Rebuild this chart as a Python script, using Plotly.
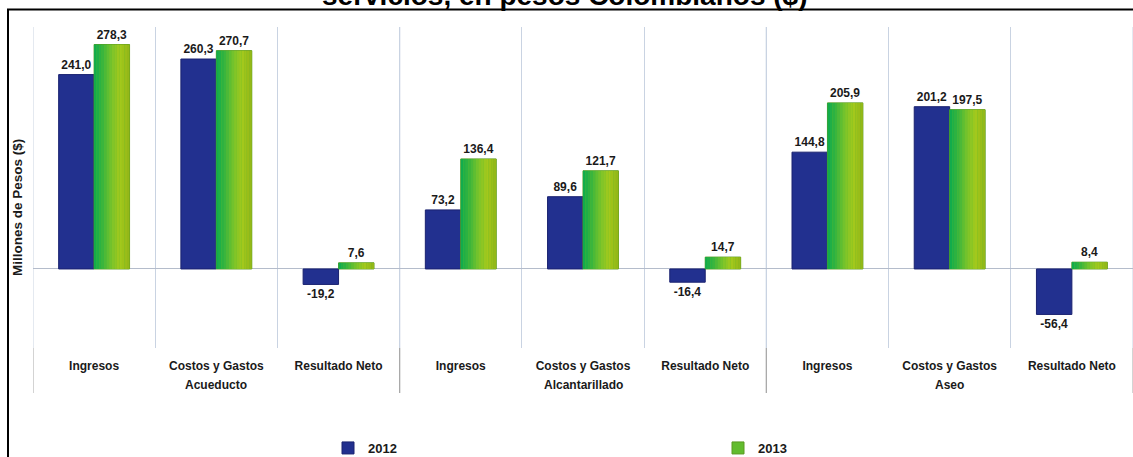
import plotly.graph_objects as go

# ---- data ----
groups = ["Acueducto"] * 3 + ["Alcantarillado"] * 3 + ["Aseo"] * 3
categories = ["Ingresos", "Costos y Gastos", "Resultado Neto"] * 3
values_2012 = [241.0, 260.3, -19.2, 73.2, 89.6, -16.4, 144.8, 201.2, -56.4]
values_2013 = [278.3, 270.7, 7.6, 136.4, 121.7, 14.7, 205.9, 197.5, 8.4]
series_names = ["2012", "2013"]
title_text = "servicios, en pesos Colombianos ($)"
y_title = "Millones de Pesos ($)"

FONT = "Liberation Sans, Arial, sans-serif"
BLUE = "#22308F"
GRID = "#C9D3E2"
BAR_W = 0.29
PLOT_TOP, PLOT_BOTTOM = 27, 348
PLOT_H = PLOT_BOTTOM - PLOT_TOP


def fmt(v):
    return f"{v:.1f}".replace(".", ",")


def lerp(c1, c2, t):
    a = [int(c1[i:i + 2], 16) for i in (1, 3, 5)]
    b = [int(c2[i:i + 2], 16) for i in (1, 3, 5)]
    return "#" + "".join(f"{round(a[k] + (b[k] - a[k]) * t):02X}" for k in range(3))


def py(pixel_y):
    """pixel row -> paper y"""
    return (PLOT_BOTTOM - pixel_y) / PLOT_H


xi = list(range(len(categories)))
fig = go.Figure()

label_font = dict(family=FONT, size=12, color="#1A1A1A", weight="bold")

# 2012 bars
fig.add_trace(go.Bar(
    x=xi, y=values_2012, name=series_names[0],
    width=BAR_W, offset=-BAR_W,
    marker=dict(color=BLUE, line=dict(color="#1A2270", width=1)),
    text=[fmt(v) for v in values_2012], textposition="outside",
    textfont=label_font, cliponaxis=False,
))

# 2013 base bars (carry label + legend)
fig.add_trace(go.Bar(
    x=xi, y=values_2013, name=series_names[1],
    width=BAR_W, offset=0,
    marker=dict(color="#62BC2E", line=dict(color="#5A9A20", width=1)),
    text=[fmt(v) for v in values_2013], textposition="outside",
    textfont=label_font, cliponaxis=False,
))

# gradient slices for 2013 bars
N = 14
stops = ["#12AC4C", "#3DB63C", "#7CC42A", "#A4C91C", "#94B818"]
for i in range(N):
    t = i / (N - 1)
    seg = min(int(t * (len(stops) - 1)), len(stops) - 2)
    local = t * (len(stops) - 1) - seg
    col = lerp(stops[seg], stops[seg + 1], local)
    fig.add_trace(go.Bar(
        x=xi, y=values_2013, showlegend=False, hoverinfo="skip",
        width=BAR_W / N, offset=i * BAR_W / N,
        marker=dict(color=col, line=dict(width=0)),
    ))

fig.update_layout(
    width=1133, height=457, autosize=False,
    margin=dict(l=33, r=0, t=PLOT_TOP, b=457 - PLOT_BOTTOM, autoexpand=False),
    paper_bgcolor="white", plot_bgcolor="white",
    barmode="overlay",
    font=dict(family=FONT, size=12, color="#1A1A1A"),
    showlegend=True,
    legend=dict(
        orientation="h", x=(328 - 33) / 1100, xanchor="left",
        y=py(448), yanchor="middle",
        entrywidth=345, entrywidthmode="pixels",
        font=dict(family=FONT, size=13, color="#1A1A1A", weight="bold"),
        bgcolor="rgba(0,0,0,0)", traceorder="normal",
    ),
)

fig.update_xaxes(
    range=[-0.5, len(categories) - 0.5],
    tickmode="array", tickvals=xi, ticktext=categories,
    showgrid=False, showline=False, ticks="", zeroline=False,
    minor=dict(tickmode="linear", tick0=0.5, dtick=1, showgrid=True,
               gridcolor=GRID, gridwidth=1, ticks=""),
    tickfont=dict(family=FONT, size=12, color="#1A1A1A", weight="bold"),
    ticklabelstandoff=9, automargin=False,
)
fig.update_yaxes(
    range=[-98, 300],
    showgrid=False, showticklabels=False, ticks="",
    zeroline=True, zerolinecolor="#B4BCCB", zerolinewidth=1,
    showline=False, automargin=False,
)

# group labels and dividers
group_names = list(dict.fromkeys(groups))
for g in group_names:
    idx = [i for i, gg in enumerate(groups) if gg == g]
    fig.add_annotation(
        text=g, xref="x", yref="paper", x=sum(idx) / len(idx), y=py(385),
        xanchor="center", yanchor="middle", showarrow=False,
        font=dict(family=FONT, size=12, color="#1A1A1A", weight="bold"),
    )
    for b in (idx[0] - 0.5, idx[-1] + 0.5):
        # light boundary line inside the plot area (covers the outer edges too)
        fig.add_shape(
            type="line", xref="x", yref="paper", x0=b, x1=b,
            y0=0, y1=1, line=dict(color=GRID, width=1), layer="below",
        )
        # grey divider through the label area
        fig.add_shape(
            type="line", xref="x", yref="paper", x0=b, x1=b,
            y0=0, y1=py(393), line=dict(color="#A8A8A8", width=1),
        )

# y-axis title
fig.add_annotation(
    text=y_title, textangle=-90, xref="paper", yref="paper",
    x=(18 - 33) / 1100, y=py(208), xanchor="center", yanchor="middle",
    showarrow=False,
    font=dict(family=FONT, size=13.5, color="#1A1A1A", weight="bold"),
)

# chart title (cut off at top, as in the reference)
fig.add_annotation(
    text=title_text, xref="paper", yref="paper",
    x=(564 - 33) / 1100, y=py(13), xanchor="center", yanchor="bottom",
    showarrow=False,
    font=dict(family=FONT, size=28, color="#000000", weight="bold"),
)

# outer frame
fig.add_shape(
    type="rect", xref="paper", yref="paper",
    x0=(8 - 33) / 1100, x1=1.02, y0=-0.5, y1=py(9.5),
    line=dict(color="#000000", width=2), fillcolor="rgba(0,0,0,0)", layer="above",
)

fig.write_html(
    "out.html",
    config={"displayModeBar": False},
    post_script="document.body.style.margin='0';",
)
